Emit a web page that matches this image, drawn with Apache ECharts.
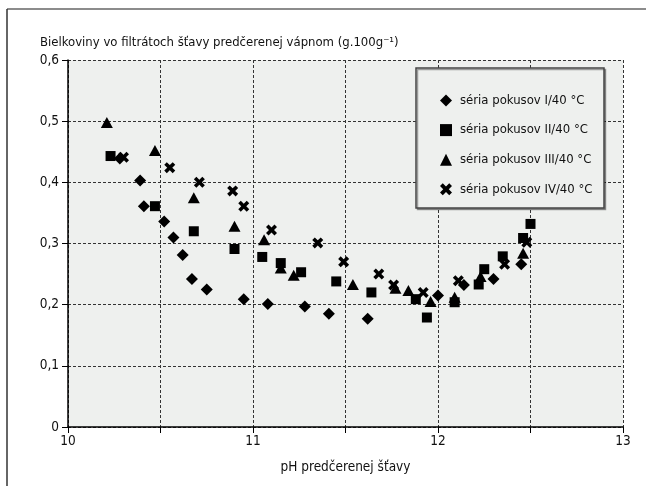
<!DOCTYPE html>
<html><head><meta charset="utf-8">
<script src="https://cdn.jsdelivr.net/npm/echarts@6/dist/echarts.min.js"></script>
<style>html,body{margin:0;padding:0;background:#fff}#c{width:646px;height:486px}</style>
</head><body><div id="c"></div>
<script>
// Data
const seriesNames = ['séria pokusov I/40 °C','séria pokusov II/40 °C','séria pokusov III/40 °C','séria pokusov IV/40 °C'];
const seriesI_pH = [10.28,10.39,10.41,10.52,10.57,10.62,10.67,10.75,10.95,11.08,11.28,11.41,11.62,12.00,12.14,12.30,12.45];
const seriesI_val = [0.439,0.403,0.361,0.336,0.310,0.281,0.242,0.225,0.209,0.201,0.197,0.185,0.177,0.215,0.232,0.242,0.266];
const seriesII_pH = [10.23,10.47,10.68,10.90,11.05,11.15,11.26,11.45,11.64,11.88,11.94,12.09,12.22,12.25,12.35,12.46,12.50];
const seriesII_val = [0.443,0.361,0.320,0.291,0.278,0.268,0.253,0.238,0.220,0.209,0.179,0.204,0.233,0.258,0.279,0.309,0.332];
const seriesIII_pH = [10.21,10.47,10.68,10.90,11.06,11.15,11.22,11.54,11.77,11.84,11.96,12.09,12.23,12.46];
const seriesIII_val = [0.498,0.452,0.375,0.328,0.306,0.260,0.248,0.233,0.227,0.223,0.205,0.212,0.246,0.284];
const seriesIV_pH = [10.30,10.55,10.71,10.89,10.95,11.10,11.35,11.49,11.68,11.76,11.92,12.11,12.36,12.48];
const seriesIV_val = [0.441,0.424,0.400,0.386,0.361,0.322,0.301,0.270,0.250,0.232,0.220,0.239,0.266,0.302];
const yTitle = 'Bielkoviny vo filtrátoch šťavy predčerenej vápnom (g.100g⁻¹)';
const xTitle = 'pH predčerenej šťavy';

const FONT = '"Liberation Sans Narrow", "DejaVu Sans Condensed", Arial, sans-serif';
const FS = 13.5;
const FST = 13;
const zip = (a, b) => a.map((v, i) => [v, b[i]]);
const xPath = 'path://M0,2.3 L2.3,0 L5,2.7 L7.7,0 L10,2.3 L7.3,5 L10,7.7 L7.7,10 L5,7.3 L2.3,10 L0,7.7 L2.7,5 Z';
const mk = {color: '#000', opacity: 1};

const chart = echarts.init(document.getElementById('c'), null, {renderer: 'canvas'});
const gridL = 68, gridR = 23, gridT = 60, gridB = 59;
chart.setOption({
  animation: false,
  textStyle: {fontFamily: FONT},
  grid: {left: gridL, right: gridR, top: gridT, bottom: gridB, show: true, backgroundColor: '#eef0ee', borderWidth: 0},
  graphic: [
    {type: 'line', shape: {x1: 7, y1: 9, x2: 646, y2: 9}, style: {stroke: '#666', lineWidth: 1.5}, z: 0},
    {type: 'line', shape: {x1: 7, y1: 9, x2: 7, y2: 486}, style: {stroke: '#333', lineWidth: 1.5}, z: 0},
    {type: 'text', left: 40, top: 36, style: {text: yTitle, font: FST + 'px ' + FONT, fill: '#111'}},
    {type: 'rect', shape: {x: 416, y: 68, width: 188, height: 140}, style: {fill: '#eef0ee', stroke: '#444', lineWidth: 1.5, shadowColor: 'rgba(0,0,0,0.35)', shadowOffsetX: 1.5, shadowOffsetY: 1.5, shadowBlur: 0}, z: 50}
  ],
  legend: {
    orient: 'vertical', left: 435, top: 89, itemGap: 16.6, itemWidth: 12, itemHeight: 12,
    textStyle: {fontFamily: FONT, fontSize: FST, color: '#111', padding: [0, 0, 0, 3]},
    data: seriesNames, z: 60
  },
  xAxis: {
    type: 'value', min: 10, max: 13, interval: 0.5,
    name: xTitle, nameLocation: 'middle', nameGap: 33,
    nameTextStyle: {fontFamily: FONT, fontSize: FS, color: '#111'},
    axisLine: {show: true, onZero: false, lineStyle: {color: '#000', width: 1.5}},
    axisTick: {show: true, length: 6, lineStyle: {color: '#000'}},
    axisLabel: {fontFamily: FONT, fontSize: FS, color: '#111', margin: 7,
      formatter: v => (Math.abs(v - Math.round(v)) < 1e-9 ? String(Math.round(v)) : '')},
    splitLine: {show: true, lineStyle: {color: '#333', type: [3, 2], width: 1}}
  },
  yAxis: {
    type: 'value', min: 0, max: 0.6, interval: 0.1,
    axisLine: {show: true, onZero: false, lineStyle: {color: '#000', width: 1.5}},
    axisTick: {show: true, length: 6, lineStyle: {color: '#000'}},
    axisLabel: {fontFamily: FONT, fontSize: FS, color: '#111', margin: 9,
      formatter: v => (v === 0 ? '0' : v.toFixed(1).replace('.', ','))},
    splitLine: {show: true, lineStyle: {color: '#333', type: [3, 2], width: 1}}
  },
  series: [
    {name: seriesNames[0], type: 'scatter', symbol: 'diamond', symbolSize: 12, itemStyle: mk, data: zip(seriesI_pH, seriesI_val)},
    {name: seriesNames[1], type: 'scatter', symbol: 'rect', symbolSize: 10, itemStyle: mk, data: zip(seriesII_pH, seriesII_val)},
    {name: seriesNames[2], type: 'scatter', symbol: 'triangle', symbolSize: [12, 11], itemStyle: mk, data: zip(seriesIII_pH, seriesIII_val)},
    {name: seriesNames[3], type: 'scatter', symbol: xPath, symbolSize: 11, itemStyle: mk, data: zip(seriesIV_pH, seriesIV_val)}
  ]
});
</script></body></html>
